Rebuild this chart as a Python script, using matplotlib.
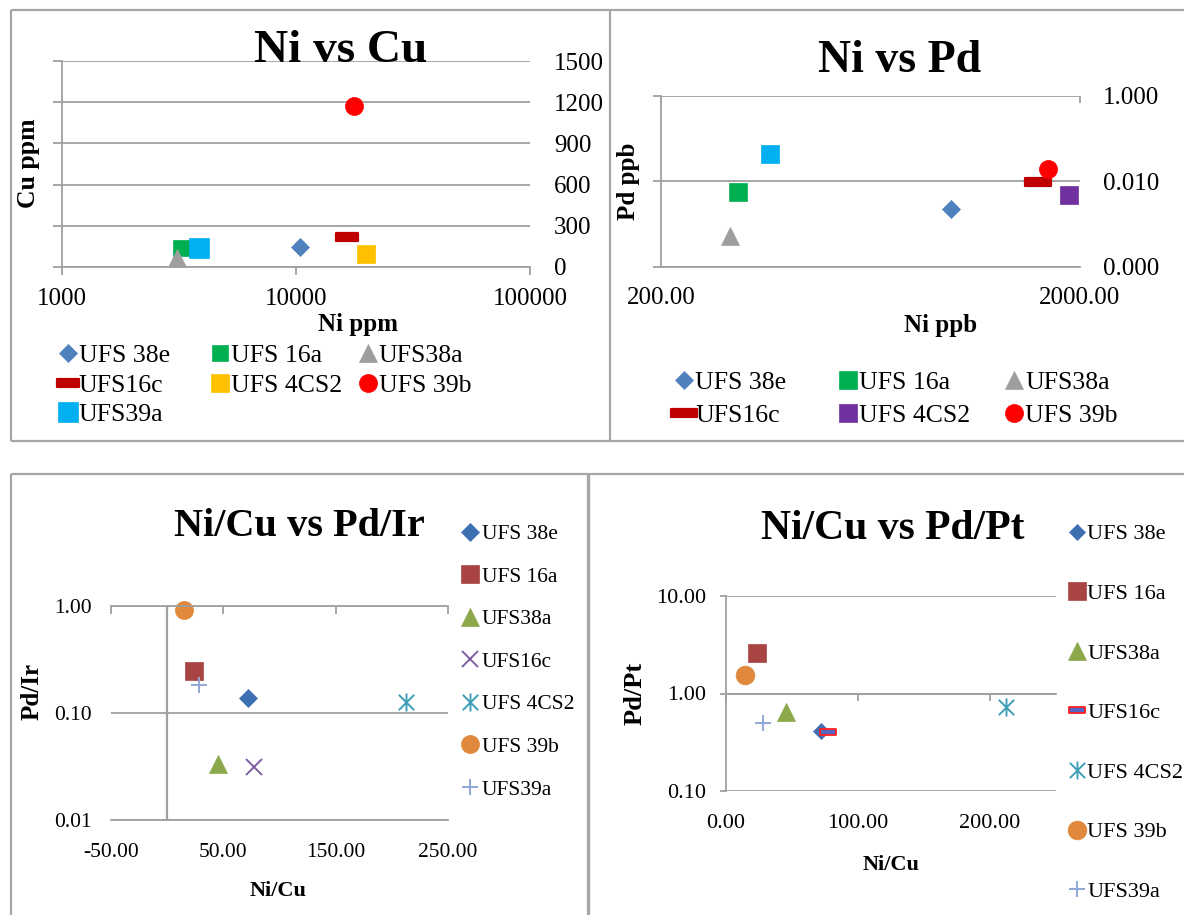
import matplotlib
matplotlib.use("Agg")
import matplotlib.pyplot as plt
from matplotlib.lines import Line2D
from matplotlib.legend import Legend
from matplotlib.markers import MarkerStyle
from matplotlib.path import Path
from matplotlib.ticker import NullLocator

plt.rcParams['font.family'] = ['Liberation Serif', 'DejaVu Serif']

# ---------------- data ----------------
samples = ["UFS 38e", "UFS 16a", "UFS38a", "UFS16c", "UFS 4CS2", "UFS 39b", "UFS39a"]

# Ni vs Cu (ppm)
ni_ppm = [10400, 3220, 3100, 16500, 19900, 17700, 3850]
cu_ppm = [146, 138, 69, 218, 95, 1172, 138]
ni_ppm_ticks = [1000, 10000, 100000]
cu_ticks = [0, 300, 600, 900, 1200, 1500]

# Ni vs Pd (ppb)
ni_ppb = [982, 305, 292, 1592, 1885, 1675, 364]
pd_ppb = [0.00228, 0.00567, 0.00053, 0.0097, 0.00483, 0.0196, 0.044]
ni_ppb_ticks = [200, 2000]
ni_ppb_labels = ["200.00", "2000.00"]
pd_ticks = [0.0001, 0.01, 1.0]
pd_labels = ["0.000", "0.010", "1.000"]

# ratios
ni_cu = [72.0, 24.0, 45.5, 77.5, 212.5, 14.7, 28.5]
pd_ir = [0.139, 0.248, 0.033, 0.0313, 0.127, 0.91, 0.182]
pd_pt = [0.41, 2.61, 0.647, 0.404, 0.73, 1.54, 0.504]
ir_xticks = [-50, 50, 150, 250]
ir_xlabels = ["-50.00", "50.00", "150.00", "250.00"]
ir_yticks = [0.01, 0.1, 1.0]
ir_ylabels = ["0.01", "0.10", "1.00"]
pt_xticks = [0, 100, 200]
pt_xlabels = ["0.00", "100.00", "200.00"]
pt_yticks = [0.1, 1.0, 10.0]
pt_ylabels = ["0.10", "1.00", "10.00"]

# ---------------- canvas helpers ----------------
W, H = 1184, 915
fig = plt.figure(figsize=(W / 100, H / 100), dpi=100)
PX = 72 / 100          # points per pixel
GRID = '#A0A0A0'
FRAME = '#A6A6A6'


def axes_px(l, t, r, b):
    return fig.add_axes([l / W, 1 - b / H, (r - l) / W, (b - t) / H])


def ftext(x, y, s, **kw):
    fig.text(x / W, 1 - y / H, s, **kw)


def fline(x0, y0, x1, y1, lw=1.6):
    fig.add_artist(Line2D([x0 / W, x1 / W], [1 - y0 / H, 1 - y1 / H],
                          transform=fig.transFigure, color=FRAME, lw=lw,
                          solid_capstyle='butt'))


def legend_col(ax, handles, mx, my, fs, pitch, hl=0.8, pad=0.15):
    fpx = fs / PX
    x = mx - hl * fpx / 2
    y = my - 0.35 * fpx
    spacing = (pitch - 0.93 * fpx) / fpx
    leg = Legend(ax, handles, [h.get_label() for h in handles],
                 loc='upper left', bbox_to_anchor=(x / W, 1 - y / H),
                 bbox_transform=fig.transFigure, frameon=False, borderpad=0,
                 borderaxespad=0, handlelength=hl, handletextpad=pad,
                 labelspacing=spacing, fontsize=fs, numpoints=1)
    ax.add_artist(leg)


def base_style(ax):
    for s in ax.spines.values():
        s.set_color(GRID)
        s.set_linewidth(1.3)
    ax.tick_params(which='both', color=GRID, width=1.3, labelcolor='black')
    ax.set_facecolor('none')
    ax.xaxis.set_minor_locator(NullLocator())
    ax.yaxis.set_minor_locator(NullLocator())


# marker shapes
DASH = Path([(-1.5, -0.5), (1.5, -0.5), (1.5, 0.5), (-1.5, 0.5), (-1.5, -0.5)],
            [Path.MOVETO, Path.LINETO, Path.LINETO, Path.LINETO, Path.CLOSEPOLY])
STAR = Path([(0, -1), (0, 1), (-0.85, -0.85), (0.85, 0.85), (-0.85, 0.85), (0.85, -0.85)],
            [Path.MOVETO, Path.LINETO, Path.MOVETO, Path.LINETO, Path.MOVETO, Path.LINETO])
dash_round = MarkerStyle(DASH, joinstyle='round')


def filled(marker, color, ms, mew=0.5):
    return dict(marker=marker, ms=ms, mfc=color, mec=color, mew=mew)


def stroked(marker, color, ms, mew=1.4):
    return dict(marker=marker, ms=ms, mfc='none', mec=color, mew=mew)


# ---------------- panel frames ----------------
fline(11, 10, 1184, 10)
fline(11, 10, 11, 441)
fline(11, 441, 1184, 441)
fline(610, 10, 610, 441)
fline(11, 474, 1184, 474)
fline(11, 474, 11, 915)
fline(588, 474, 588, 915, lw=2.4)

# ---------------- Ni vs Cu ----------------
p1_styles = [
    filled('D', '#4F81BD', 9),
    filled('s', '#00B050', 12),
    filled('^', '#9E9E9E', 13.5),
    filled(dash_round, '#C00000', 16, mew=1.6),
    filled('s', '#FFC000', 13),
    filled('o', '#FF0000', 13),
    filled('s', '#00B0F0', 15),
]
ax1 = axes_px(62, 61, 530, 267)
base_style(ax1)
ax1.set_xscale('log')
ax1.set_xlim(1000, 100000)
ax1.set_ylim(0, 1500)
ax1.set_xticks(ni_ppm_ticks, [str(v) for v in ni_ppm_ticks])
ax1.xaxis.set_minor_locator(NullLocator())
ax1.set_yticks(cu_ticks, [str(v) for v in cu_ticks])
ax1.grid(axis='y', color=GRID, lw=1.3)
ax1.set_axisbelow(True)
ax1.spines[['top', 'right']].set_visible(False)
ax1.tick_params(axis='y', left=True, right=False, labelleft=False, labelright=True,
                length=9 * PX, direction='out', pad=15 * PX, labelsize=18)
ax1.tick_params(axis='x', length=8 * PX, direction='out', pad=13 * PX, labelsize=18)
h1 = []
for i, name in enumerate(samples):
    h1 += ax1.plot(ni_ppm[i], cu_ppm[i], ls='none', label=name, clip_on=False,
                   **p1_styles[i])
ftext(340.5, 61.5, 'Ni vs Cu', ha='center', va='baseline', fontsize=34, fontweight='bold')
ftext(358, 331, 'Ni ppm', ha='center', va='baseline', fontsize=18, fontweight='bold')
ftext(29, 163, 'Cu ppm', ha='center', va='center', rotation=90, fontsize=18.5, fontweight='bold')
legend_col(ax1, [h1[0], h1[3], h1[6]], 68, 353, 18.5, 30.5, hl=0.75, pad=0.04)
legend_col(ax1, [h1[1], h1[4]], 220, 353, 18.5, 30.5, hl=0.75, pad=0.04)
legend_col(ax1, [h1[2], h1[5]], 368, 353, 18.5, 30.5, hl=0.75, pad=0.04)

# ---------------- Ni vs Pd ----------------
p2_styles = [
    filled('D', '#4F81BD', 9),
    filled('s', '#00B050', 12.5),
    filled('^', '#9E9E9E', 13),
    filled(dash_round, '#C00000', 19, mew=1.6),
    filled('s', '#7030A0', 13.4),
    filled('o', '#FF0000', 13),
    filled('s', '#00B0F0', 13.4),
]
ax2 = axes_px(661, 96, 1080, 267)
base_style(ax2)
ax2.set_xscale('log')
ax2.set_yscale('log')
ax2.set_xlim(200, 2000)
ax2.set_ylim(0.0001, 1.0)
ax2.set_xticks(ni_ppb_ticks, ni_ppb_labels)
ax2.set_yticks(pd_ticks, pd_labels)
ax2.xaxis.set_minor_locator(NullLocator())
ax2.yaxis.set_minor_locator(NullLocator())
ax2.grid(axis='y', color=GRID, lw=1.3)
ax2.set_axisbelow(True)
ax2.spines[['top', 'right']].set_visible(False)
ax2.tick_params(axis='y', left=True, right=False, labelleft=False, labelright=True,
                length=8.5 * PX, direction='out', pad=14.5 * PX, labelsize=18)
ax2.tick_params(axis='x', top=True, bottom=False, labeltop=False, labelbottom=True,
                length=7 * PX, direction='in', pad=20 * PX, labelsize=18)
h2 = []
for i, name in enumerate(samples):
    h2 += ax2.plot(ni_ppb[i], pd_ppb[i], ls='none', label=name, clip_on=False,
                   **p2_styles[i])
ftext(899.8, 72.5, 'Ni vs Pd', ha='center', va='baseline', fontsize=33, fontweight='bold')
ftext(941, 332, 'Ni ppb', ha='center', va='baseline', fontsize=18, fontweight='bold')
ftext(629, 181, 'Pd ppb', ha='center', va='center', rotation=90, fontsize=18, fontweight='bold')
legend_col(ax2, [h2[0], h2[3]], 684, 380, 18.5, 34, hl=0.75, pad=0.05)
legend_col(ax2, [h2[1], h2[4]], 848, 380, 18.5, 34, hl=0.75, pad=0.05)
legend_col(ax2, [h2[2], h2[5]], 1014, 380, 18.5, 34, hl=0.75, pad=0.05)

# ---------------- Ni/Cu vs Pd/Ir ----------------
p3_styles = [
    filled('D', '#3F6FB3', 9),
    filled('s', '#A84442', 13),
    filled('^', '#8BA84A', 13),
    stroked('x', '#7E5FA0', 11.5),
    stroked(STAR, '#3E9FB6', 13),
    filled('o', '#E0883C', 13),
    stroked('+', '#8FA8D8', 11.5),
]
ax3 = axes_px(111, 605.7, 448, 820)
base_style(ax3)
ax3.set_yscale('log')
ax3.set_xlim(-50, 250)
ax3.set_ylim(0.01, 1.0)
ax3.set_xticks(ir_xticks, ir_xlabels)
ax3.set_yticks(ir_yticks, ir_ylabels)
ax3.yaxis.set_minor_locator(NullLocator())
ax3.grid(axis='y', color=GRID, lw=1.3)
ax3.set_axisbelow(True)
ax3.spines[['left', 'right']].set_visible(False)
ax3.axvline(0, color=GRID, lw=1.6, zorder=1)
ax3.tick_params(axis='y', left=False, right=False, length=0, pad=19 * PX, labelsize=15.5)
ax3.tick_params(axis='x', top=True, bottom=False, labeltop=False, labelbottom=True,
                length=8 * PX, direction='in', pad=23 * PX, labelsize=15.5)
h3 = []
for i, name in enumerate(samples):
    h3 += ax3.plot(ni_cu[i], pd_ir[i], ls='none', label=name, clip_on=False,
                   **p3_styles[i])
ftext(299, 536, 'Ni/Cu vs Pd/Ir', ha='center', va='baseline', fontsize=29, fontweight='bold')
ftext(278, 896, 'Ni/Cu', ha='center', va='baseline', fontsize=16, fontweight='bold')
ftext(32, 692, 'Pd/Ir', ha='center', va='center', rotation=90, fontsize=18, fontweight='bold')
legend_col(ax3, h3, 470, 531.7, 15.5, 42.5)

# ---------------- Ni/Cu vs Pd/Pt ----------------
p4_styles = [
    filled('D', '#3F6FB3', 8.5),
    filled('s', '#A84442', 13.5),
    filled('^', '#8BA84A', 12.5),
    dict(marker=DASH, ms=12, mfc='#5566C0', mec='#FF2020', mew=1.3),
    stroked(STAR, '#3E9FB6', 13),
    filled('o', '#E0883C', 13.5),
    stroked('+', '#8FA8D8', 11.5),
]
ax4 = axes_px(725.6, 596, 1055.6, 791)
base_style(ax4)
ax4.set_yscale('log')
ax4.set_xlim(0, 250)
ax4.set_ylim(0.1, 10.0)
ax4.set_yticks(pt_yticks, pt_ylabels)
ax4.yaxis.set_minor_locator(NullLocator())
ax4.set_xticks(pt_xticks)
ax4.grid(axis='y', color=GRID, lw=1.3)
ax4.set_axisbelow(True)
ax4.spines[['top', 'right']].set_visible(False)
ax4.spines['bottom'].set_position(('data', 1.0))
ax4.tick_params(axis='x', labelbottom=False, length=7 * PX, direction='out')
ax4.tick_params(axis='y', length=6 * PX, direction='out', pad=13 * PX, labelsize=16)
sec4 = ax4.secondary_xaxis('bottom')
sec4.set_xticks(pt_xticks, pt_xlabels)
sec4.xaxis.set_minor_locator(NullLocator())
sec4.tick_params(length=0, pad=23 * PX, labelsize=16)
sec4.spines['bottom'].set_visible(False)
h4 = []
for i, name in enumerate(samples):
    h4 += ax4.plot(ni_cu[i], pd_pt[i], ls='none', label=name, clip_on=False,
                   **p4_styles[i])
ftext(892.5, 539, 'Ni/Cu vs Pd/Pt', ha='center', va='baseline', fontsize=30, fontweight='bold')
ftext(890.6, 870, 'Ni/Cu', ha='center', va='baseline', fontsize=16, fontweight='bold')
ftext(635, 693, 'Pd/Pt', ha='center', va='center', rotation=90, fontsize=19, fontweight='bold')
legend_col(ax4, h4, 1076.6, 531.7, 16, 59.7, pad=0.08)

fig.savefig('out.png', dpi=100)
